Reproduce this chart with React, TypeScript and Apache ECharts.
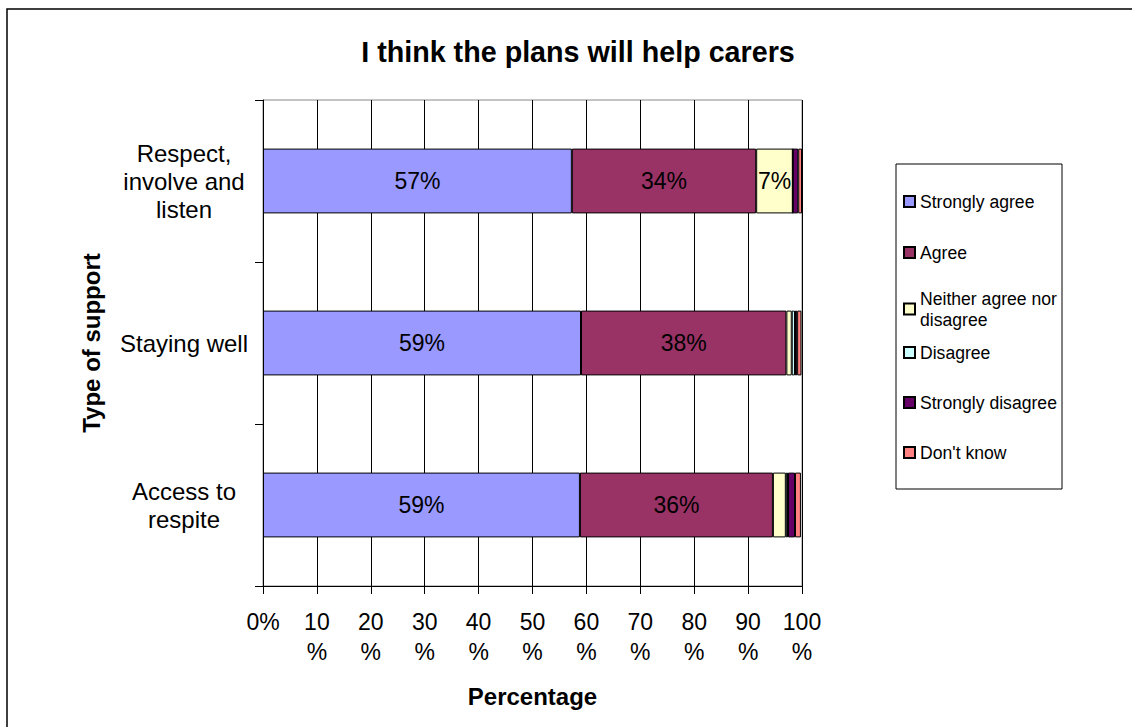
import React, { useEffect, useRef } from "react";
import * as echarts from "echarts";

const categories = ["Respect,\ninvolve and\nlisten", "Staying well", "Access to\nrespite"];
const seriesNames = [
  "Strongly agree",
  "Agree",
  "Neither agree nor disagree",
  "Disagree",
  "Strongly disagree",
  "Don't know",
];
const stronglyAgree = [57.3, 59.0, 58.8];
const agree = [34.2, 38.1, 35.8];
const neither = [6.8, 1.0, 2.4];
const disagree = [0, 0.6, 0.4];
const stronglyDisagree = [1.0, 0.4, 1.3];
const dontKnow = [0.7, 0.8, 1.1];
const seriesValues = [stronglyAgree, agree, neither, disagree, stronglyDisagree, dontKnow];
const seriesColors = ["#9999FF", "#993366", "#FFFFCC", "#CCFFFF", "#660066", "#FF8080"];
const legendTops = [191, 242, 288, 342, 392, 442];

const FONT = "'Liberation Sans', Arial, sans-serif";

export default function App() {
  const ref = useRef<HTMLDivElement>(null);
  useEffect(() => {
    if (!ref.current) return;
    const chart = echarts.init(ref.current, null, { renderer: "svg" });
    chart.setOption({
      animation: false,
      backgroundColor: "#fff",
      textStyle: { fontFamily: FONT },
      title: {
        text: "I think the plans will help carers",
        left: 573,
        textAlign: "center",
        top: 32,
        textStyle: { fontFamily: FONT, fontSize: 28.7, fontWeight: "bold", color: "#000" },
      },
      graphic: [
        {
          type: "rect",
          shape: { x: 7, y: 9, width: 1200, height: 800 },
          style: { fill: "none", stroke: "#000", lineWidth: 1.5 },
          silent: true,
          z: -1,
        },
        {
          type: "rect",
          shape: { x: 896, y: 164, width: 166, height: 325 },
          style: { fill: "#fff", stroke: "#000", lineWidth: 1 },
          silent: true,
          z: -1,
        },
      ],
      legend: seriesNames.map((name, i) => ({
        data: [name],
        orient: "vertical",
        left: 903,
        top: legendTops[i],
        itemWidth: 11,
        itemHeight: 11,
        icon: "rect",
        selectedMode: false,
        padding: 0,
        formatter: (n: string) => (n === "Neither agree nor disagree" ? "Neither agree nor\ndisagree" : n),
        textStyle: { fontFamily: FONT, fontSize: 17.6, color: "#000", lineHeight: 21 },
      })),
      grid: {
        left: 263,
        right: 330,
        top: 100,
        bottom: 141,
        show: true,
        borderColor: "#888",
        borderWidth: 1,
        backgroundColor: "transparent",
      },
      xAxis: {
        type: "value",
        min: 0,
        max: 100,
        interval: 10,
        name: "Percentage",
        nameLocation: "middle",
        nameGap: 98,
        nameTextStyle: { fontFamily: FONT, fontSize: 24, fontWeight: "bold", color: "#000" },
        axisLine: { show: true, lineStyle: { color: "#000", width: 1 } },
        axisTick: { show: true, length: 8, lineStyle: { color: "#000" } },
        splitLine: { show: true, lineStyle: { color: "#000", width: 1 } },
        axisLabel: {
          margin: 21,
          fontFamily: FONT,
          fontSize: 23,
          lineHeight: 30,
          color: "#000",
          formatter: (v: number) => (v === 0 ? "0%" : v + "\n%"),
        },
      },
      yAxis: {
        type: "category",
        data: categories,
        inverse: true,
        name: "Type of support",
        nameLocation: "middle",
        nameGap: 160,
        nameTextStyle: { fontFamily: FONT, fontSize: 24, fontWeight: "bold", color: "#000" },
        axisLine: { show: true, lineStyle: { color: "#000", width: 1 } },
        axisTick: { show: true, length: 8, lineStyle: { color: "#000" } },
        axisLabel: {
          margin: 79,
          align: "center",
          fontFamily: FONT,
          fontSize: 24,
          lineHeight: 28,
          color: "#000",
        },
      },
      series: seriesNames.map((name, i) => ({
        name,
        type: "bar",
        stack: "total",
        barWidth: "40%",
        data: seriesValues[i],
        itemStyle: { color: seriesColors[i], borderColor: "#000", borderWidth: 1 },
        label: {
          show: true,
          position: "inside",
          fontFamily: FONT,
          fontSize: 23,
          color: "#000",
          formatter: (p: any) => (p.value >= 5 ? Math.round(p.value) + "%" : ""),
        },
      })),
    });
    return () => chart.dispose();
  }, []);
  return (
    <div
      ref={ref}
      style={{ position: "fixed", left: 0, top: 0, width: 1132, height: 727, background: "#fff" }}
    />
  );
}
